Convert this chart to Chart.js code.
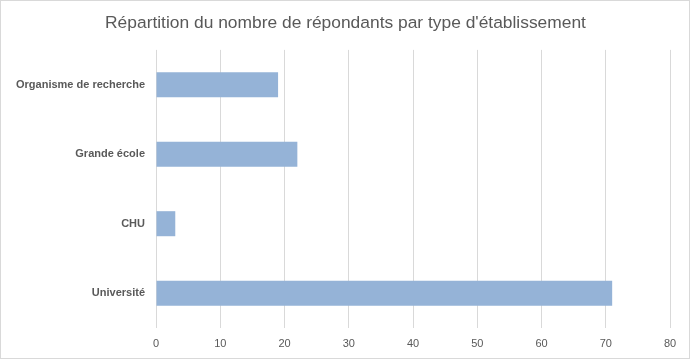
<!DOCTYPE html>
<html>
<head>
<meta charset="utf-8">
<script src="https://cdn.jsdelivr.net/npm/chart.js@4.4.0/dist/chart.umd.min.js"></script>
<style>
  html, body { margin: 0; padding: 0; background: #fff; }
  #wrap { width: 690px; height: 359px; box-sizing: border-box; border: 1px solid #d9d9d9; position: relative; }
</style>
</head>
<body>
<div id="wrap"><canvas id="chart"></canvas></div>
<script>
// DATA
const categories = ['Organisme de recherche', 'Grande école', 'CHU', 'Université'];
const respondents = [19, 22, 3, 71];
const xTicks = [0, 10, 20, 30, 40, 50, 60, 70, 80];

const textColor = '#595959';
const gridColor = '#d9d9d9';
const barColor = '#95b3d7';

const ctx = document.getElementById('chart').getContext('2d');
new Chart(ctx, {
    type: 'bar',
    data: {
        labels: categories,
        datasets: [{
            data: respondents,
            backgroundColor: barColor,
            barPercentage: 0.36,
            categoryPercentage: 1
        }]
    },
    options: {
        indexAxis: 'y',
        responsive: true,
        maintainAspectRatio: false,
        animation: false,
        layout: { padding: { left: 10, right: 9, top: 0, bottom: 0 } },
        plugins: {
            legend: { display: false },
            tooltip: { enabled: false },
            title: {
                display: true,
                text: 'Répartition du nombre de répondants par type d\'établissement',
                color: textColor,
                font: { family: 'Liberation Sans', size: 17.4, weight: 'normal' },
                padding: { top: 12, bottom: 16 }
            }
        },
        scales: {
            x: {
                min: 0,
                max: 80,
                afterBuildTicks: axis => { axis.ticks = xTicks.map(v => ({ value: v })); },
                afterFit: axis => { axis.height = 30; },
                grid: { color: gridColor, drawTicks: false },
                border: { display: false },
                ticks: {
                    color: textColor,
                    padding: 9,
                    font: { family: 'Liberation Sans', size: 11 }
                }
            },
            y: {
                afterFit: axis => { axis.width = 145; },
                grid: { display: false, drawTicks: false },
                border: { display: false },
                ticks: {
                    color: textColor,
                    padding: 11,
                    font: { family: 'Liberation Sans', size: 11, weight: 'bold' }
                }
            },
            // empty spacer on the right so the title stays centred on the whole box
            spacer: {
                type: 'linear',
                position: 'right',
                display: true,
                afterFit: axis => { axis.width = 10; },
                grid: { display: false, drawTicks: false },
                border: { display: false },
                ticks: { display: false }
            }
        }
    }
});
</script>
</body>
</html>
